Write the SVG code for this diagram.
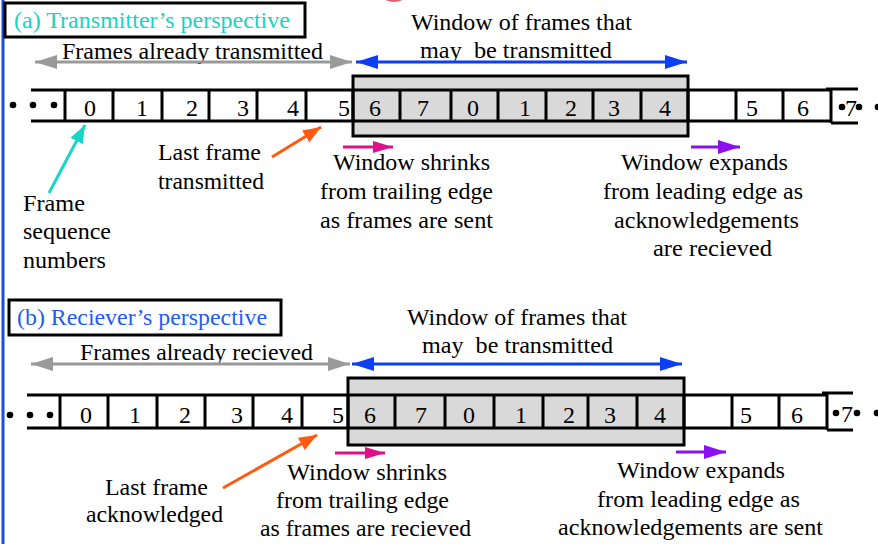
<svg xmlns="http://www.w3.org/2000/svg" width="878" height="544" viewBox="0 0 878 544" font-family="'Liberation Serif','DejaVu Serif',serif">
<style>
text{font-family:"Liberation Serif","DejaVu Serif",serif;fill:#000;font-size:23px}
.n{font-size:24px;text-anchor:middle}
.ln{stroke:#000;stroke-width:3;fill:none}
.win{fill:#d9d9d9;stroke:#000;stroke-width:3}
.gray{stroke:#9a9a9a;stroke-width:3;fill:none}
.blue{stroke:#0b3ff0;stroke-width:3;fill:none}
.dot{fill:#000}
</style>
<defs>
<marker id="hg" viewBox="0 0 22 14" refX="22" refY="7" markerWidth="22" markerHeight="14" markerUnits="userSpaceOnUse" orient="auto-start-reverse"><path d="M0,0 L22,7 L0,14 Z" fill="#9a9a9a"/></marker>
<marker id="hb" viewBox="0 0 22 14" refX="22" refY="7" markerWidth="22" markerHeight="14" markerUnits="userSpaceOnUse" orient="auto-start-reverse"><path d="M0,0 L22,7 L0,14 Z" fill="#0b3ff0"/></marker>
<marker id="hc" viewBox="0 0 18 14" refX="18" refY="7" markerWidth="18" markerHeight="14" markerUnits="userSpaceOnUse" orient="auto"><path d="M0,0 L18,7 L0,14 Z" fill="#17d6c6"/></marker>
<marker id="ho" viewBox="0 0 18 14" refX="18" refY="7" markerWidth="18" markerHeight="14" markerUnits="userSpaceOnUse" orient="auto"><path d="M0,0 L18,7 L0,14 Z" fill="#ff5a10"/></marker>
<marker id="hm" viewBox="0 0 20 12" refX="20" refY="6" markerWidth="20" markerHeight="12" markerUnits="userSpaceOnUse" orient="auto"><path d="M0,0 L20,6 L0,12 Z" fill="#e0108a"/></marker>
<marker id="hp" viewBox="0 0 22 14" refX="22" refY="7" markerWidth="22" markerHeight="14" markerUnits="userSpaceOnUse" orient="auto"><path d="M0,0 L22,7 L0,14 Z" fill="#8a10f0"/></marker>
</defs>

<line x1="3" y1="0" x2="3" y2="544" stroke="#1a4fe0" stroke-width="3"/>
<ellipse cx="394" cy="-5" rx="12" ry="7" fill="#e06070"/>

<!-- ===== (a) Transmitter ===== -->
<g id="title-a">
<rect x="5" y="3" width="300" height="34" fill="#fff" stroke="#000" stroke-width="3"/>
<text x="14" y="28" textLength="276" lengthAdjust="spacingAndGlyphs" style="fill:#17d3c0">(a) Transmitter’s perspective</text>
</g>

<g id="labels-a">
<text x="62" y="59" textLength="261" lengthAdjust="spacingAndGlyphs">Frames already transmitted</text>
<text x="411" y="30" textLength="221" lengthAdjust="spacingAndGlyphs">Window of frames that</text>
<text x="420" y="58" textLength="192" lengthAdjust="spacingAndGlyphs" style="white-space:pre">may  be transmitted</text>
</g>

<g id="window-a">
<rect class="win" x="353" y="76" width="335" height="60"/>
</g>

<g id="frames-a">
<line class="ln" x1="31" y1="90" x2="830" y2="90"/>
<line class="ln" x1="31" y1="121" x2="830" y2="121"/>
<path class="ln" d="M65,90V121 M113,90V121 M162,90V121 M209,90V121 M257,90V121 M306,90V121 M353,90V121 M400,90V121 M451,90V121 M498,90V121 M546,90V121 M593,90V121 M641,90V121 M688,90V121 M736,90V121 M783,90V121"/>
<path class="ln" d="M826,89H858 M831,89V123 M831,123H858"/>
<circle class="dot" cx="13" cy="105" r="3.3"/>
<circle class="dot" cx="33" cy="105" r="3.3"/>
<circle class="dot" cx="54" cy="105" r="3.3"/>
<text class="n" x="90" y="116">0</text>
<text class="n" x="142" y="116">1</text>
<text class="n" x="192" y="116">2</text>
<text class="n" x="243" y="116">3</text>
<text class="n" x="293" y="116">4</text>
<text class="n" x="344" y="116">5</text>
<text class="n" x="375" y="116">6</text>
<text class="n" x="423" y="116">7</text>
<text class="n" x="473" y="116">0</text>
<text class="n" x="525" y="116">1</text>
<text class="n" x="571" y="116">2</text>
<text class="n" x="614" y="116">3</text>
<text class="n" x="665" y="116">4</text>
<text class="n" x="752" y="116">5</text>
<text class="n" x="803" y="116">6</text>
<circle class="dot" cx="842" cy="107" r="3.3"/>
<text class="n" x="851" y="116">7</text>
<circle class="dot" cx="859" cy="107" r="3.3"/>
<circle class="dot" cx="878" cy="107" r="3.3"/>
</g>

<g id="note-seq-a">
<text x="23" y="211" textLength="62" lengthAdjust="spacingAndGlyphs">Frame</text>
<text x="23" y="239" textLength="88" lengthAdjust="spacingAndGlyphs">sequence</text>
<text x="23" y="268" textLength="83" lengthAdjust="spacingAndGlyphs">numbers</text>
</g>
<g id="note-last-a">
<text x="158" y="160" textLength="103" lengthAdjust="spacingAndGlyphs">Last frame</text>
<text x="158" y="189" textLength="106" lengthAdjust="spacingAndGlyphs">transmitted</text>
</g>
<g id="note-shrink-a">
<text x="333" y="170" textLength="157" lengthAdjust="spacingAndGlyphs">Window shrinks</text>
<text x="320" y="199" textLength="173" lengthAdjust="spacingAndGlyphs">from trailing edge</text>
<text x="320" y="228" textLength="173" lengthAdjust="spacingAndGlyphs">as frames are sent</text>
</g>
<g id="note-expand-a">
<text x="621" y="170" textLength="167" lengthAdjust="spacingAndGlyphs">Window expands</text>
<text x="603" y="199" textLength="200" lengthAdjust="spacingAndGlyphs">from leading edge as</text>
<text x="614" y="228" textLength="185" lengthAdjust="spacingAndGlyphs">acknowledgements</text>
<text x="653" y="256" textLength="119" lengthAdjust="spacingAndGlyphs">are recieved</text>
</g>

<!-- ===== (b) Receiver ===== -->
<g id="title-b">
<rect x="9" y="300" width="272" height="35" fill="#fff" stroke="#000" stroke-width="3"/>
<text x="17" y="325" textLength="250" lengthAdjust="spacingAndGlyphs" style="fill:#1f5cf5">(b) Reciever’s perspective</text>
</g>

<g id="labels-b">
<text x="80" y="360" textLength="233" lengthAdjust="spacingAndGlyphs">Frames already recieved</text>
<text x="407" y="325" textLength="220" lengthAdjust="spacingAndGlyphs">Window of frames that</text>
<text x="422" y="353" textLength="191" lengthAdjust="spacingAndGlyphs" style="white-space:pre">may  be transmitted</text>
</g>

<g id="window-b">
<rect class="win" x="348" y="378" width="336" height="67"/>
</g>

<g id="frames-b">
<line class="ln" x1="27" y1="395" x2="826" y2="395"/>
<line class="ln" x1="27" y1="428" x2="826" y2="428"/>
<path class="ln" d="M60,395V428 M108,395V428 M157,395V428 M205,395V428 M253,395V428 M302,395V428 M348,395V428 M395,395V428 M445,395V428 M494,395V428 M543,395V428 M588,395V428 M637,395V428 M684,395V428 M732,395V428 M779,395V428"/>
<path class="ln" d="M822,393H853 M827,393V430 M827,430H853"/>
<circle class="dot" cx="10" cy="415" r="3.3"/>
<circle class="dot" cx="30" cy="415" r="3.3"/>
<circle class="dot" cx="50" cy="415" r="3.3"/>
<text class="n" x="86" y="423">0</text>
<text class="n" x="135" y="423">1</text>
<text class="n" x="185" y="423">2</text>
<text class="n" x="237" y="423">3</text>
<text class="n" x="287" y="423">4</text>
<text class="n" x="338" y="423">5</text>
<text class="n" x="370" y="423">6</text>
<text class="n" x="421" y="423">7</text>
<text class="n" x="469" y="423">0</text>
<text class="n" x="521" y="423">1</text>
<text class="n" x="569" y="423">2</text>
<text class="n" x="610" y="423">3</text>
<text class="n" x="660" y="423">4</text>
<text class="n" x="746" y="423">5</text>
<text class="n" x="797" y="423">6</text>
<circle class="dot" cx="836" cy="413" r="3.3"/>
<text class="n" x="847" y="422">7</text>
<circle class="dot" cx="857" cy="413" r="3.3"/>
<circle class="dot" cx="877" cy="413" r="3.3"/>
</g>

<g id="note-last-b">
<text x="105" y="495" textLength="103" lengthAdjust="spacingAndGlyphs">Last frame</text>
<text x="86" y="522" textLength="137" lengthAdjust="spacingAndGlyphs">acknowledged</text>
</g>
<g id="note-shrink-b">
<text x="287" y="480" textLength="160" lengthAdjust="spacingAndGlyphs">Window shrinks</text>
<text x="276" y="508" textLength="173" lengthAdjust="spacingAndGlyphs">from trailing edge</text>
<text x="260" y="536" textLength="211" lengthAdjust="spacingAndGlyphs">as frames are recieved</text>
</g>
<g id="note-expand-b">
<text x="617" y="478" textLength="168" lengthAdjust="spacingAndGlyphs">Window expands</text>
<text x="597" y="507" textLength="203" lengthAdjust="spacingAndGlyphs">from leading edge as</text>
<text x="558" y="535" textLength="265" lengthAdjust="spacingAndGlyphs">acknowledgements are sent</text>
</g>

<!-- ===== connectors ===== -->
<g id="connectors">
<line class="gray" x1="35" y1="62" x2="352" y2="62" marker-start="url(#hg)" marker-end="url(#hg)"/>
<line class="blue" x1="356" y1="62" x2="687" y2="62" marker-start="url(#hb)" marker-end="url(#hb)"/>
<line x1="49" y1="193" x2="85" y2="125" stroke="#17d6c6" stroke-width="3" marker-end="url(#hc)"/>
<line x1="272" y1="157" x2="321" y2="127" stroke="#ff5a10" stroke-width="3" marker-end="url(#ho)"/>
<line x1="343" y1="147" x2="393" y2="147" stroke="#e0108a" stroke-width="3" marker-end="url(#hm)"/>
<line x1="691" y1="147" x2="740" y2="147" stroke="#8a10f0" stroke-width="3" marker-end="url(#hp)"/>

<line class="gray" x1="31" y1="364" x2="350" y2="364" marker-start="url(#hg)" marker-end="url(#hg)"/>
<line class="blue" x1="352" y1="364" x2="682" y2="364" marker-start="url(#hb)" marker-end="url(#hb)"/>
<line x1="223" y1="488" x2="317" y2="435" stroke="#ff5a10" stroke-width="3" marker-end="url(#ho)"/>
<line x1="335" y1="453" x2="385" y2="453" stroke="#e0108a" stroke-width="3" marker-end="url(#hm)"/>
<line x1="676" y1="452" x2="726" y2="452" stroke="#8a10f0" stroke-width="3" marker-end="url(#hp)"/>
</g>
</svg>
